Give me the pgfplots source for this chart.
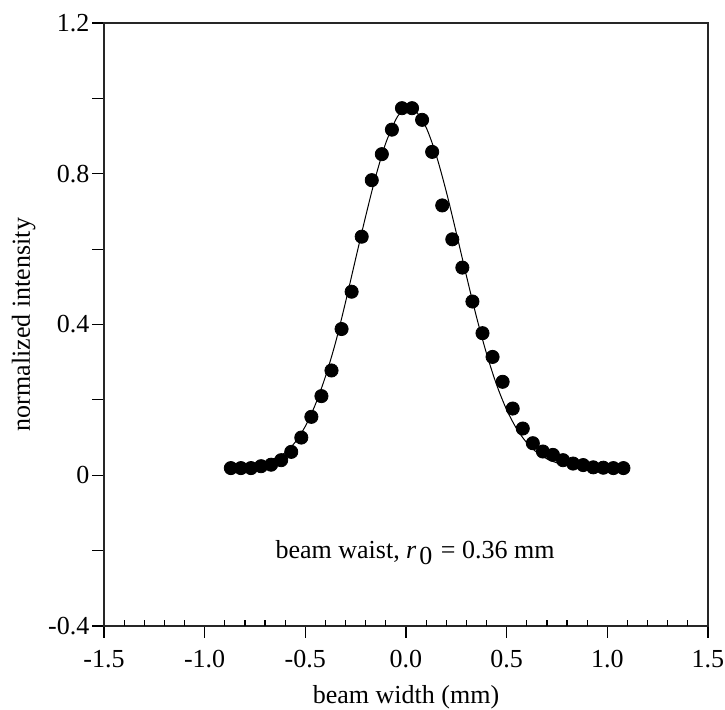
\documentclass[border=0pt]{standalone}
\usepackage{pgfplots}
\pgfplotsset{compat=1.18}
\usepackage{fontspec}
\setmainfont{Liberation Serif}
\pgfplotstableread{
x y
-0.87 0.019
-0.82 0.019
-0.77 0.019
-0.72 0.024
-0.67 0.028
-0.62 0.040
-0.57 0.062
-0.52 0.100
-0.47 0.155
-0.42 0.210
-0.37 0.278
-0.32 0.388
-0.27 0.487
-0.22 0.633
-0.17 0.783
-0.12 0.852
-0.07 0.917
-0.02 0.974
0.03 0.974
0.08 0.943
0.13 0.858
0.18 0.716
0.23 0.626
0.28 0.551
0.33 0.461
0.38 0.377
0.43 0.314
0.48 0.248
0.53 0.177
0.58 0.124
0.63 0.085
0.68 0.063
0.73 0.054
0.78 0.040
0.83 0.031
0.88 0.027
0.93 0.021
0.98 0.020
1.03 0.019
1.08 0.019
}\measured
\pgfplotstableread{
x y
-0.87 0.0203
-0.85 0.0209
-0.80 0.0237
-0.75 0.0285
-0.70 0.0350
-0.65 0.0450
-0.60 0.0600
-0.55 0.0880
-0.50 0.1300
-0.45 0.1880
-0.40 0.2620
-0.35 0.3520
-0.30 0.4600
-0.25 0.5747
-0.20 0.6879
-0.15 0.7936
-0.10 0.8821
-0.05 0.9442
-0.025 0.9632
0.00 0.9733
0.025 0.9743
0.05 0.9659
0.10 0.9230
0.15 0.8494
0.20 0.7528
0.25 0.6429
0.30 0.5294
0.35 0.4205
0.40 0.3229
0.45 0.2402
0.50 0.1738
0.55 0.1231
0.60 0.0862
0.65 0.0606
0.70 0.0436
0.75 0.0328
0.80 0.0262
0.85 0.0224
0.90 0.0203
0.95 0.0192
1.00 0.0185
1.05 0.0183
1.08 0.0182
}\fit
\begin{document}
\begin{tikzpicture}
\path[use as bounding box] (-52pt,-41.5pt) rectangle (310.5pt,313pt);
\begin{axis}[
  at={(0pt,0pt)}, anchor=south west,
  scale only axis,
  width=302pt, height=301.5pt,
  xmin=-1.5, xmax=1.5, ymin=-0.4, ymax=1.2,
  axis line style={line width=0.6pt, black!85},
  font=\fontsize{13}{15}\selectfont,
  xtick={-1.5,-1,-0.5,0,0.5,1,1.5},
  xticklabels={-1.5,-1.0,-0.5,0.0,0.5,1.0,1.5},
  xtick pos=bottom,
  xtick align=outside,
  extra x ticks={-1.4,-1.3,-1.2,-1.1,-0.9,-0.8,-0.7,-0.6,-0.4,-0.3,-0.2,-0.1,0.1,0.2,0.3,0.4,0.6,0.7,0.8,0.9,1.1,1.2,1.3,1.4},
  extra x tick labels={},
  extra x tick style={xtick align=inside, major tick length=3pt},
  ytick={-0.4,-0.2,0,0.2,0.4,0.6,0.8,1.0,1.2},
  yticklabels={-0.4,,0,,0.4,,0.8,,1.2},
  ytick pos=left,
  ytick align=outside,
  major tick length=5.8pt,
  tick style={line width=0.6pt, black},
  xticklabel style={yshift=-3pt},
  yticklabel style={xshift=2pt},
  every axis x label/.style={at={(axis description cs:0.5,0)},yshift=-38.5pt,anchor=base},
  every axis y label/.style={at={(axis description cs:0,0.5)},xshift=-37pt,rotate=90,anchor=base},
  xlabel={beam width (mm)},
  ylabel={normalized intensity},
  clip=false,
]
\addplot[black, line width=0.5pt, smooth, no marks] table[x=x,y=y] {\fit};
\addplot[only marks, mark=*, mark size=3.3pt, black] table[x=x,y=y] {\measured};
\node[anchor=base, font=\fontsize{13}{15}\selectfont] at (axis cs:0.045,-0.22)
  {beam waist, \textit{r}\kern1.5pt\raisebox{-3pt}{0}\kern1pt{} = 0.36 mm};
\end{axis}
\end{tikzpicture}
\end{document}
